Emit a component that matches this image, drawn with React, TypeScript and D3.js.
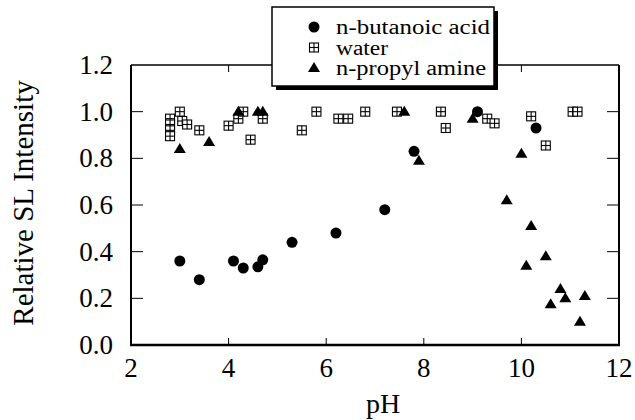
import React from 'react';
import {scaleLinear} from 'd3';

// valeurs
const butanoicPH = [3.0, 3.4, 4.1, 4.3, 4.6, 4.7, 5.3, 6.2, 7.2, 7.8, 9.1, 10.3];
const butanoicI = [0.36, 0.28, 0.36, 0.33, 0.335, 0.365, 0.44, 0.48, 0.58, 0.83, 1.0, 0.93];

const waterPH = [2.8, 2.8, 2.8, 2.8, 3.0, 3.05, 3.15, 3.4, 4.0, 4.2, 4.3, 4.45, 4.7, 5.5, 5.8, 6.25, 6.45, 6.8, 7.45, 8.35, 8.45, 9.3, 9.45, 10.2, 10.5, 11.05, 11.15];
const waterI = [0.97, 0.945, 0.92, 0.895, 1.0, 0.96, 0.945, 0.92, 0.94, 0.97, 1.0, 0.88, 0.97, 0.92, 1.0, 0.97, 0.97, 1.0, 1.0, 1.0, 0.93, 0.97, 0.95, 0.98, 0.855, 1.0, 1.0];

const aminePH = [3.0, 3.6, 4.2, 4.6, 4.7, 7.6, 7.9, 9.0, 9.7, 10.0, 10.1, 10.2, 10.5, 10.6, 10.8, 10.9, 11.2, 11.3];
const amineI = [0.84, 0.87, 1.0, 1.0, 1.0, 1.0, 0.79, 0.97, 0.62, 0.82, 0.34, 0.51, 0.38, 0.175, 0.24, 0.2, 0.1, 0.21];

const xTicks = [2, 4, 6, 8, 10, 12];
const yTicks = [0, 0.2, 0.4, 0.6, 0.8, 1.0, 1.2];
const legendLabels = ['n-butanoic acid', 'water', 'n-propyl amine'];

const left = 131, right = 619, top = 65, bottom = 345;

function Circle({x, y}: {x: number; y: number}) {
  return <circle cx={x} cy={y} r={5.5} fill="#000" />;
}

function Square({x, y}: {x: number; y: number}) {
  const s = 4.5;
  return (
    <g stroke="#000" strokeWidth={1.1} fill="#fff">
      <rect x={x - s} y={y - s} width={2 * s} height={2 * s} />
      <line x1={x} x2={x} y1={y - s} y2={y + s} />
      <line x1={x - s} x2={x + s} y1={y} y2={y} />
    </g>
  );
}

function Triangle({x, y}: {x: number; y: number}) {
  const w = 6, h = 10;
  return <path d={`M${x},${y - h * 0.6}L${x + w},${y + h * 0.4}L${x - w},${y + h * 0.4}Z`} fill="#000" />;
}

function Label(props: any) {
  const {children, ...rest} = props;
  return (
    <text {...rest} style={{fontFamily: "'Liberation Serif'"}}>
      {children}
    </text>
  );
}

export default function App() {
  const x = scaleLinear().domain([2, 12]).range([left, right]);
  const y = scaleLinear().domain([0, 1.2]).range([bottom, top]);

  const inner = yTicks.filter(t => t > 0 && t < 1.2);
  const innerX = xTicks.filter(t => t > 2 && t < 12);
  const legendWidths = [154, 52, 150];

  return (
    <svg width={635} height={420} style={{position: 'absolute', left: 0, top: 0, background: '#fff'}}>
      <style>{"text { font-family: 'Liberation Serif'; }"}</style>
      {/* cadre */}
      <line x1={left} x2={right} y1={top} y2={top} stroke="#000" strokeWidth={1.5} />
      <line x1={left} x2={left} y1={top} y2={bottom} stroke="#000" strokeWidth={2} />
      <line x1={right} x2={right} y1={top} y2={bottom} stroke="#000" strokeWidth={2} />
      <line x1={left - 1} x2={right + 1} y1={bottom} y2={bottom} stroke="#000" strokeWidth={2.5} />

      {inner.map(t => (
        <g key={'y' + t}>
          <line x1={left} x2={left + 12} y1={y(t)} y2={y(t)} stroke="#000" strokeWidth={1} />
          <line x1={right - 12} x2={right} y1={y(t)} y2={y(t)} stroke="#000" strokeWidth={1} />
        </g>
      ))}
      {innerX.map(t => (
        <g key={'x' + t}>
          <line x1={x(t)} x2={x(t)} y1={bottom} y2={bottom - 7} stroke="#000" strokeWidth={1} />
          <line x1={x(t)} x2={x(t)} y1={top} y2={top + 7} stroke="#000" strokeWidth={1} />
        </g>
      ))}

      {yTicks.map(t => (
        <Label key={'yl' + t} x={113} y={y(t) + 9} textAnchor="end" fontSize={27}>
          {t.toFixed(1)}
        </Label>
      ))}
      {xTicks.map(t => (
        <Label key={'xl' + t} x={x(t)} y={377} textAnchor="middle" fontSize={27}>
          {String(t)}
        </Label>
      ))}

      <Label x={383} y={413} textAnchor="middle" fontSize={28}>pH</Label>
      <Label transform="translate(33,203) rotate(-90)" textAnchor="middle" fontSize={29}>
        Relative SL Intensity
      </Label>

      {/* points */}
      {waterPH.map((p, i) => <Square key={'w' + i} x={x(p)} y={y(waterI[i])} />)}
      {butanoicPH.map((p, i) => <Circle key={'b' + i} x={x(p)} y={y(butanoicI[i])} />)}
      {aminePH.map((p, i) => <Triangle key={'a' + i} x={x(p)} y={y(amineI[i])} />)}

      {/* légende */}
      <rect x={276} y={11} width={222} height={79} fill="#000" />
      <rect x={272} y={7} width={222} height={79} fill="#fff" stroke="#000" strokeWidth={1.5} />
      {legendLabels.map((l, i) => {
        const cy = 27 + i * 20.5;
        return (
          <g key={l}>
            {i === 0 && <Circle x={314} y={cy} />}
            {i === 1 && <Square x={314} y={cy} />}
            {i === 2 && <Triangle x={314} y={cy} />}
            <Label x={336} y={cy + 7} fontSize={20} textLength={legendWidths[i]} lengthAdjust="spacingAndGlyphs">
              {l}
            </Label>
          </g>
        );
      })}
    </svg>
  );
}
